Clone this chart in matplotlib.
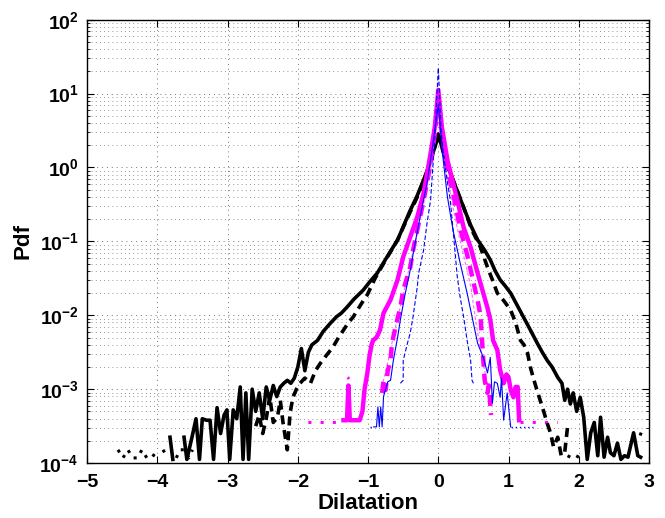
import numpy as np
import matplotlib
matplotlib.use("Agg")
import matplotlib.pyplot as plt
from matplotlib.ticker import LogLocator, NullFormatter, FixedLocator

# values: dilatation and log10(pdf)
nan = np.nan

# black, solid
blk_sol_x = [-3.82, -3.78, nan, -3.62, -3.58, -3.50, -3.45, -3.40, -3.36, -3.30, -3.25, -3.20,
             -3.15, -3.10, -3.05, -3.01, -2.97, -2.92, -2.87, -2.82, -2.78, -2.74, -2.70, -2.65,
             -2.60, -2.55, -2.50, -2.45, -2.40, -2.35, -2.30, -2.25, -2.20, -2.15, -2.10, -2.05,
             -2.00, -1.95, -1.90, -1.85, -1.80, -1.72, -1.64, -1.54, -1.45, -1.38, -1.30, -1.20,
             -1.07, -0.97, -0.87, -0.73, -0.58, -0.40, -0.30, -0.21, -0.12, -0.05, 0.0,
             0.05, 0.12, 0.21, 0.36, 0.46, 0.56, 0.66, 0.74, 0.81, 0.88, 0.95, 1.03, 1.12,
             1.21, 1.30, 1.41, 1.48, 1.55, 1.62, 1.70, 1.76, 1.80, 1.84, 1.88, 1.92, 1.97,
             2.02, 2.07, 2.12, 2.17, 2.22, 2.27, 2.31, 2.36, 2.41, 2.45, 2.50, 2.55, 2.60,
             2.65, 2.70, 2.78, 2.84, 2.88]
blk_sol_lg = [-3.65, -3.95, nan, -3.65, -3.95, -3.62, -3.40, -3.95, -3.40, -3.42, -3.42, -3.95,
              -3.25, -3.60, -3.35, -3.28, -3.95, -3.28, -3.40, -2.97, -3.95, -3.05, -3.95, -3.00,
              -3.30, -3.05, -3.40, -2.97, -3.15, -2.95, -3.10, -2.97, -2.92, -2.88, -2.92, -2.85,
              -2.70, -2.45, -2.75, -2.50, -2.40, -2.34, -2.22, -2.11, -2.02, -1.97, -1.89, -1.78,
              -1.66, -1.54, -1.43, -1.21, -0.98, -0.58, -0.38, -0.17, 0.05, 0.28, 0.45,
              0.28, 0.05, -0.17, -0.54, -0.78, -0.98, -1.12, -1.25, -1.40, -1.52, -1.60, -1.70, -1.86,
              -2.02, -2.18, -2.38, -2.50, -2.61, -2.70, -2.84, -2.92, -3.15, -3.00, -3.20, -3.05, -3.30,
              -3.11, -3.38, -3.95, -3.59, -3.45, -3.90, -3.38, -3.92, -3.65, -3.86, -3.90, -3.73, -3.95,
              -3.90, -3.92, -3.59, -3.90, -3.92]

# black, dashed
blk_das_x = [-2.60, -2.55, -2.50, -2.45, -2.40, -2.35, -2.29, -2.25, -2.21, -2.15, -2.11, -2.07,
             -2.02, -1.97, -1.90, -1.82, -1.75, -1.68, -1.60, -1.50, -1.42, -1.35, -1.28, -1.21,
             -1.10, -1.01, -0.90, -0.75, -0.58, -0.40, -0.30, -0.21, -0.12, -0.05, 0.0,
             0.05, 0.12, 0.21, 0.36, 0.48, 0.60, 0.70, 0.77, 0.84, 0.93, 1.03, 1.10, 1.17, 1.22,
             1.27, 1.31, 1.35, 1.40, 1.45, 1.50, 1.55, 1.60, 1.64, 1.70, 1.75, 1.80, 1.84]
blk_das_lg = [-3.50, -3.35, -3.60, -3.40, -3.10, -3.45, -3.38, -3.15, -3.46, -3.82, -3.32, -3.11,
              -3.00, -2.92, -2.85, -2.92, -2.75, -2.65, -2.55, -2.43, -2.30, -2.20, -2.10, -2.02,
              -1.85, -1.72, -1.50, -1.25, -0.98, -0.60, -0.40, -0.18, 0.05, 0.28, 0.45,
              0.28, 0.05, -0.17, -0.54, -0.85, -1.08, -1.35, -1.52, -1.70, -1.80, -1.93, -2.10, -2.34, -2.40,
              -2.51, -2.70, -2.84, -3.00, -3.15, -3.30, -3.46, -3.60, -3.78, -3.65, -3.90, -3.85, -3.51]

# black, dotted (only the far tails show)
blk_dot_x = [-4.56, -4.49, -4.42, -4.35, -4.28, -4.22, -4.15, -4.08, -4.00, nan,
             -3.92, -3.85, nan, -3.73, -3.68, -3.62, -3.55, -3.50, nan,
             1.84, 1.90, 1.96, 2.02, 2.08, nan, 2.86, 2.92]
blk_dot_lg = [-3.82, -3.93, -3.82, -3.93, -3.93, -3.82, -3.93, -3.93, -3.82, nan,
              -3.82, -3.93, nan, -3.93, -3.82, -3.82, -3.93, -3.82, nan,
              -3.90, -3.93, -3.90, -3.93, -3.90, nan, -3.60, -3.62]

# magenta, solid
mag_sol_x = [-1.35, -1.30, -1.28, -1.26, -1.20, -1.12, -1.08, -1.05, -1.01, -0.98, -0.95, -0.93,
             -0.88, -0.83, -0.78, -0.73, -0.68, -0.58, -0.50, -0.40, -0.30, -0.21, -0.11, -0.05,
             0.0, 0.05, 0.13, 0.27, 0.36, 0.46, 0.56, 0.64, 0.70, 0.74, 0.78, 0.84, 0.88, 0.93,
             0.97, 1.00, 1.03, 1.07, 1.10, 1.13, 1.15]
mag_sol_lg = [-3.42, -3.42, -2.95, -3.42, -3.42, -3.42, -3.30, -3.00, -2.78, -2.55, -2.40, -2.34,
              -2.30, -2.20, -1.97, -1.88, -1.79, -1.52, -1.21, -0.94, -0.67, -0.35, 0.19, 0.55,
              1.05, 0.55, 0.10, -0.44, -0.81, -1.08, -1.43, -1.70, -1.90, -2.06, -2.34, -2.47, -2.74, -2.92,
              -2.80, -2.84, -3.01, -3.11, -2.97, -2.97, -3.42]

# magenta, dashed
mag_das_x = [-0.80, -0.78, -0.75, -0.72, -0.68, -0.66, -0.61, -0.54, -0.50, -0.40, -0.36, -0.30,
             -0.21, -0.11, -0.05, 0.0, 0.05, 0.12, 0.21, 0.31, 0.41, 0.50, 0.56, 0.60, 0.62,
             0.64, 0.66, 0.70, 0.72, 0.75]
mag_das_lg = [-3.05, -2.88, -3.01, -2.75, -2.61, -2.38, -2.16, -1.89, -1.66, -1.35, -1.12, -0.85,
              -0.45, 0.05, 0.45, 0.95, 0.45, 0.02, -0.35, -0.82, -1.18, -1.55, -1.80, -2.00, -2.30,
              -2.60, -2.88, -3.05, -2.95, -3.35]

# magenta, thin dashed
mag_thin_x = [-0.82, -0.78, -0.70, -0.62, -0.52, -0.40, -0.30, -0.20, -0.10, 0.0,
              0.10, 0.20, 0.30, 0.40, 0.47, 0.52, 0.58, 0.62, 0.68, 0.72]
mag_thin_lg = [-3.05, -2.88, -2.55, -2.20, -1.80, -1.30, -0.90, -0.45, 0.00, 0.90,
               0.00, -0.50, -0.95, -1.35, -1.65, -2.00, -2.35, -2.55, -2.85, -3.00]

# magenta, dotted (tails)
mag_dot_x = [-1.85, -1.70, -1.55, -1.45, -1.38, nan, -1.29, -1.27, nan,
             1.17, 1.28, 1.40, 1.52, 1.62, 1.70]
mag_dot_lg = [-3.45, -3.45, -3.45, -3.45, -3.45, nan, -2.84, -2.86, nan,
              -3.45, -3.45, -3.45, -3.45, -3.45, -3.45]

# blue, solid thin
blu_sol_x = [-0.92, -0.88, -0.86, -0.84, -0.82, -0.80, -0.78, -0.72, -0.68, -0.64, -0.58, -0.54,
             -0.47, -0.40, -0.33, -0.26, -0.16, -0.08, 0.0, 0.07, 0.13, 0.21, 0.31, 0.41, 0.50,
             0.56, 0.64, 0.70, 0.74, 0.77, 0.80, 0.84, 0.88, 0.90, 0.93, 0.98, 1.03]
blu_sol_lg = [-3.51, -3.51, -3.24, -3.51, -3.24, -3.51, -3.10, -2.90, -2.88, -2.61, -2.30, -2.06,
              -1.70, -1.39, -1.02, -0.67, -0.21, 0.30, 0.85, 0.10, -0.40, -0.85, -1.29, -1.70, -2.11,
              -2.38, -2.57, -2.78, -2.57, -3.19, -2.90, -2.92, -3.11, -2.85, -3.42, -3.05, -3.51]

# blue, dashed thin
blu_das_x = [-0.54, -0.50, -0.50, -0.44, -0.40, -0.36, -0.30, -0.28, -0.21, -0.16, -0.11, -0.05,
             0.0, 0.04, 0.07, 0.13, 0.17, 0.22, 0.27, 0.31, 0.36, 0.41, 0.46, 0.48, 0.50]
blu_das_lg = [-2.92, -2.88, -2.61, -2.38, -2.24, -2.02, -1.62, -1.43, -1.12, -0.75, -0.44, 0.40,
              1.35, 0.50, 0.20, -0.20, -0.44, -0.95, -1.48, -1.75, -2.02, -2.34, -2.61, -2.88, -2.92]

# blue, dotted (tails)
blu_dot_x = [-0.97, -0.92, nan, 1.03, 1.12, 1.20, 1.28, 1.35]
blu_dot_lg = [-3.51, -3.51, nan, -3.51, -3.51, -3.51, -3.51, -3.51]

x_ticks = [-5, -4, -3, -2, -1, 0, 1, 2, 3]

plt.rcParams["font.family"] = ["Liberation Sans", "DejaVu Sans"]
plt.rcParams["font.weight"] = "bold"
plt.rcParams["axes.labelweight"] = "bold"

fig = plt.figure(figsize=(6.65, 5.18), dpi=100)
ax = fig.add_axes([0.131, 0.106, 0.845, 0.856])

def pdf(lg):
    return 10.0 ** np.array(lg, dtype=float)

ax.plot(blk_dot_x, pdf(blk_dot_lg), color="k", ls=(0, (1, 2.2)), lw=2.2)
ax.plot(mag_dot_x, pdf(mag_dot_lg), color="magenta", ls=(0, (1, 3)), lw=2.2)
ax.plot(blu_dot_x, pdf(blu_dot_lg), color="blue", ls=(0, (1, 2)), lw=1.0)
ax.plot(blk_das_x, pdf(blk_das_lg), color="k", ls=(0, (2.5, 1.6)), lw=2.6)
ax.plot(blk_sol_x, pdf(blk_sol_lg), color="k", ls="-", lw=2.6)
ax.plot(mag_thin_x, pdf(mag_thin_lg), color="#ff66ff", ls=(0, (3, 2)), lw=0.8)
ax.plot(mag_das_x, pdf(mag_das_lg), color="magenta", ls=(0, (2.5, 1.6)), lw=3.2)
ax.plot(mag_sol_x, pdf(mag_sol_lg), color="magenta", ls="-", lw=3.2)
ax.plot(blu_das_x, pdf(blu_das_lg), color="blue", ls=(0, (4, 2)), lw=0.8)
ax.plot(blu_sol_x, pdf(blu_sol_lg), color="blue", ls="-", lw=0.8)

ax.set_yscale("log")
ax.set_xlim(-5, 3)
ax.set_ylim(1e-4, 1e2)
ax.xaxis.set_major_locator(FixedLocator(x_ticks))
ax.yaxis.set_major_locator(LogLocator(base=10, numticks=10))
ax.yaxis.set_minor_locator(LogLocator(base=10, subs=np.arange(2, 10), numticks=20))
ax.yaxis.set_minor_formatter(NullFormatter())

ax.grid(True, which="major", axis="both", ls=(0, (1, 4)), color="0.45", lw=0.7)
ax.grid(True, which="minor", axis="y", ls=(0, (1, 4)), color="0.45", lw=0.6)
ax.set_axisbelow(True)

ax.tick_params(which="both", direction="in", top=True, right=True, labelsize=14)
ax.tick_params(which="major", length=5, width=0.8)
ax.tick_params(which="minor", length=2.5, width=0.6)
ax.tick_params(axis="x", pad=8)
ax.tick_params(axis="y", pad=6)
for sp in ax.spines.values():
    sp.set_linewidth(1.0)

ax.set_xlabel("Dilatation", fontsize=16, fontweight="bold", labelpad=1)
ax.set_ylabel("Pdf", fontsize=16, fontweight="bold", labelpad=4)

fig.savefig("out.png", dpi=100)
plt.close(fig)
